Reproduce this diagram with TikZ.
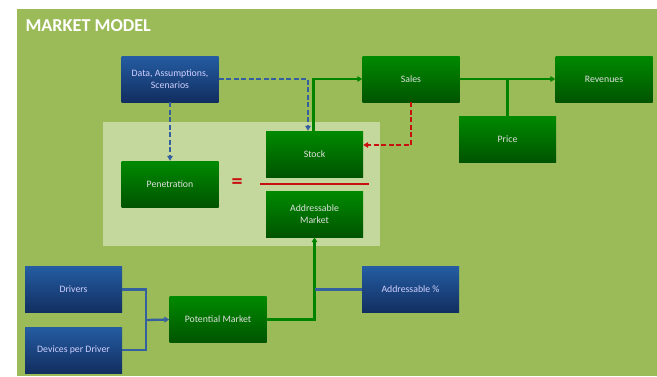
\documentclass[tikz,border=0pt]{standalone}
\usepackage{fontspec}
\setmainfont{Carlito}
\usepackage{tikz}
\usetikzlibrary{arrows.meta}

\definecolor{bggreen}{RGB}{155,187,89}
\definecolor{panel}{RGB}{196,215,156}
\definecolor{boxtop}{RGB}{0,138,0}
\definecolor{boxbot}{RGB}{0,84,0}
\definecolor{bluetop}{RGB}{36,92,162}
\definecolor{bluebot}{RGB}{18,46,96}
\definecolor{linegreen}{RGB}{0,132,0}
\definecolor{lineblue}{RGB}{52,96,160}
\definecolor{linered}{RGB}{200,16,16}

\tikzset{
  gbox/.style={rectangle, top color=boxtop, bottom color=boxbot, text=white!88!black,
    minimum width=97pt, minimum height=46pt, inner sep=1pt, align=center,
    font=\fontsize{9.8}{12}\selectfont},
  bbox/.style={gbox, top color=bluetop, bottom color=bluebot, text=white!82!blue},
  gline/.style={draw=linegreen, line width=2.3pt},
  bline/.style={draw=lineblue, line width=2.3pt},
  bdash/.style={bline, dash pattern=on 5pt off 2.5pt},
  rdash/.style={draw=linered, line width=2.3pt, dash pattern=on 5pt off 2.5pt},
  >={Triangle[length=5pt,width=5.5pt]}
}

\begin{document}
\begin{tikzpicture}[x=1pt,y=-1pt]
  \useasboundingbox (0,0) rectangle (657,376);
  \fill[bggreen] (17,9) rectangle (657,376);
  \fill[panel] (103,122) rectangle (380,246);
  \node[anchor=west, text=white, font=\fontsize{18.2}{20}\bfseries] (title) at (22,26) {MARKET MODEL};

  % boxes
  \node[bbox] (data) at (170,79) {Data, Assumptions,\\Scenarios};
  \node[gbox] (pen) at (170,184) {Penetration};
  \node[gbox] (stock) at (314.5,154) {Stock};
  \node[gbox] (addr) at (314.5,214) {Addressable\\Market};
  \node[gbox] (sales) at (411,79) {Sales};
  \node[gbox] (rev) at (604,79) {Revenues};
  \node[gbox] (price) at (507.5,139) {Price};
  \node[bbox] (drivers) at (73.5,289.5) {Drivers};
  \node[bbox] (devices) at (73.5,350) {Devices per Driver};
  \node[gbox] (pot) at (218,319.5) {Potential Market};
  \node[bbox] (addrpct) at (410.5,289.5) {Addressable \%};

  % penetration = stock / addressable market
  \node[text=linered, font=\fontsize{22}{22}\bfseries] (eq) at (237,184) {=};
  \draw[draw=linered, line width=1.3pt] (260,184) -- (369,184);

  \coordinate (join) at (146,320);

  \path[->]
  ([xshift=-1pt]stock.north) edge[gline, to path={|- (\tikztotarget)}] (sales.west)
  (sales.east) edge[gline] (rev.west)
  (price.north) edge[gline, -] (price.north |- sales.east)
  (data.east) edge[bdash, to path={-| (\tikztotarget)}] ([xshift=-6.5pt]stock.north)
  (data.south) edge[bdash] (pen.north)
  (sales.south) edge[rdash, to path={|- (\tikztotarget)}] ([yshift=9pt]stock.east)
  (drivers.east) edge[bline, -, to path={-| (\tikztotarget)}] (join)
  (devices.east) edge[bline, -, to path={-| (\tikztotarget)}] (join)
  (join) edge[bline] (pot.west)
  (pot.east) edge[gline, to path={-| (\tikztotarget)}] (addr.south)
  (addrpct.west) edge[bline, -] (addrpct.west -| addr.south)
  ;
\end{tikzpicture}
\end{document}
